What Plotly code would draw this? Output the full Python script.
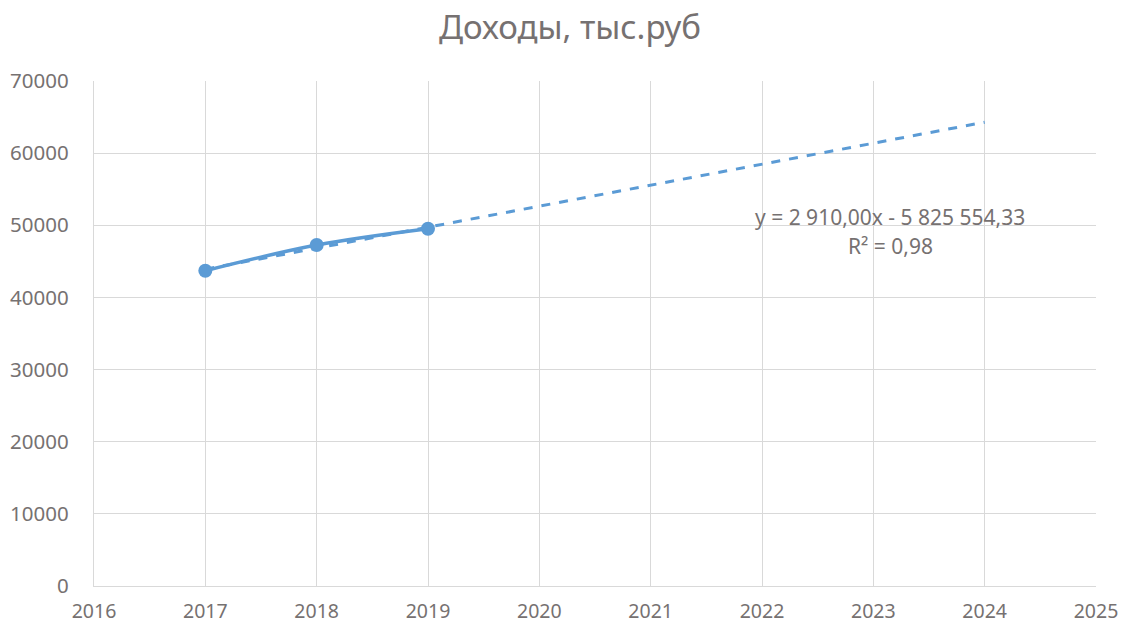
import numpy as np
import plotly.graph_objects as go

years = [2017, 2018, 2019]
income = [43700, 47257, 49520]
forecast_end = 2024
title = "Доходы, тыс.руб"
eq_text = "y = 2 910,00x - 5 825 554,33"
r2_text = "R² = 0,98"

color = "#5B9BD5"
grey = "#767171"
font = "Noto Sans"

slope, intercept = np.polyfit(years, income, 1)
tx = [years[0], forecast_end]
ty = [slope * x + intercept for x in tx]

fig = go.Figure()
fig.add_trace(go.Scatter(x=tx, y=ty, mode="lines",
                         line=dict(color=color, width=3, dash="dash"),
                         showlegend=False, hoverinfo="skip"))
fig.add_trace(go.Scatter(x=years, y=income, mode="lines+markers",
                         line=dict(color=color, width=3.5, shape="spline"),
                         marker=dict(color=color, size=14),
                         showlegend=False))

fig.add_annotation(x=2023.15, y=51200, xref="x", yref="y", text=eq_text,
                   showarrow=False, font=dict(family=font, size=21, color=grey))
fig.add_annotation(x=2023.15, y=47100, xref="x", yref="y", text=r2_text,
                   showarrow=False, font=dict(family=font, size=21, color=grey))

fig.update_layout(
    width=1121, height=625,
    margin=dict(l=94, r=25, t=81, b=39, autoexpand=False),
    paper_bgcolor="white", plot_bgcolor="white",
    title=dict(text=title, x=570 / 1121, xanchor="center", xref="container",
               y=1 - 27 / 625, yref="container", yanchor="middle",
               font=dict(family=font, size=33, color=grey)),
    font=dict(family=font, color=grey),
)
fig.update_xaxes(range=[2016, 2025], dtick=1, tick0=2016, showgrid=True,
                 gridcolor="#D9D9D9", gridwidth=1.3, zeroline=False,
                 showline=True, linecolor="#D9D9D9", linewidth=1.3,
                 tickfont=dict(family=font, size=19.5, color=grey), ticks="",
                 ticklabelstandoff=7, tickformat="d", automargin=False)
fig.update_yaxes(range=[0, 70000], dtick=10000, showgrid=True,
                 gridcolor="#D9D9D9", gridwidth=1.3, zeroline=False,
                 showline=True, linecolor="#D9D9D9", linewidth=1.3,
                 tickfont=dict(family=font, size=20.5, color=grey), ticks="",
                 ticklabelstandoff=20, tickformat="d", automargin=False)

fig.write_html("out.html", config={"displayModeBar": False},
               post_script="document.body.style.margin='0';document.body.style.overflow='hidden';")
